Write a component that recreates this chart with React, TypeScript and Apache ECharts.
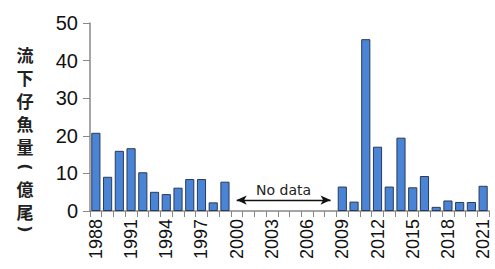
import React, { useEffect, useRef } from "react";
import * as echarts from "echarts";

const years: string[] = [];
for (let y = 1988; y <= 2021; y++) years.push(String(y));

const values: (number | null)[] = [
  20.8, 9.1, 16.0, 16.7, 10.3, 5.1, 4.5, 6.2, 8.5, 8.5, 2.3, 7.8,
  null, null, null, null, null, null, null, null, null,
  6.5, 2.5, 45.7, 17.1, 6.5, 19.5, 6.3, 9.3, 1.1, 2.8, 2.4, 2.4, 6.7,
];

const yAxisTitle = ["流", "下", "仔", "魚", "量", "(", "億", "尾", ")"];
const noDataLabel = "No data";
const noDataFrom = "2000";
const noDataTo = "2008";
const noDataLevel = 2.9;

export default function App() {
  const ref = useRef<HTMLDivElement>(null);
  useEffect(() => {
    if (!ref.current) return;
    const chart = echarts.init(ref.current, null, { renderer: "svg" });
    const font = "'Liberation Sans', Arial, sans-serif";
    const titleY = [54, 77, 100, 123, 146, 167, 188, 211, 229];
    const titleEls = yAxisTitle.map((ch, i) => {
      const isParen = ch === "(" || ch === ")";
      return {
        type: "text",
        x: 25,
        y: titleY[i],
        rotation: isParen ? -Math.PI / 2 : 0,
        style: {
          text: ch,
          fontSize: isParen ? 16 : 17,
          lineHeight: isParen ? 12 : 18,
          fontWeight: "bold",
          fill: "#222",
          align: "center",
          verticalAlign: "middle",
          fontFamily: isParen ? "'DejaVu Sans', sans-serif" : "'Noto Sans CJK JP', sans-serif",
        },
      };
    });
    chart.setOption({
      animation: false,
      backgroundColor: "#ffffff",
      grid: { left: 90, right: 6, top: 23, bottom: 58 },
      xAxis: {
        type: "category",
        data: years,
        boundaryGap: true,
        axisLine: { lineStyle: { color: "#888", width: 1.5 } },
        axisTick: { show: true, interval: 0, length: 6, lineStyle: { color: "#888" } },
        axisLabel: {
          interval: 2,
          rotate: 90,
          fontSize: 18,
          color: "#111",
          fontFamily: font,
          margin: 8,
        },
      },
      yAxis: {
        type: "value",
        min: 0,
        max: 50,
        interval: 10,
        axisLine: { show: true, lineStyle: { color: "#888", width: 1.5 } },
        axisTick: { show: true, length: 7, lineStyle: { color: "#888" } },
        splitLine: { show: false },
        axisLabel: { fontSize: 20, color: "#111", fontFamily: font, margin: 12 },
      },
      graphic: titleEls,
      series: [
        {
          type: "bar",
          data: values,
          barCategoryGap: "22%",
          itemStyle: { color: "#4a84d6", borderColor: "#2b3a55", borderWidth: 1 },
          markLine: {
            silent: true,
            symbol: ["arrow", "arrow"],
            symbolSize: [7, 10],
            lineStyle: { color: "#111", type: "solid", width: 1.3 },
            label: {
              show: true,
              position: "insideMiddleTop",
              formatter: noDataLabel,
              fontSize: 14,
              color: "#222",
              fontFamily: "'DejaVu Sans', sans-serif",
              distance: 3,
            },
            data: [
              [
                { coord: [noDataFrom, noDataLevel] },
                { coord: [noDataTo, noDataLevel] },
              ],
            ],
          },
        },
      ],
    });
    return () => chart.dispose();
  }, []);
  return (
    <div
      ref={ref}
      style={{ position: "fixed", left: 0, top: 0, width: 495, height: 269 }}
    />
  );
}
